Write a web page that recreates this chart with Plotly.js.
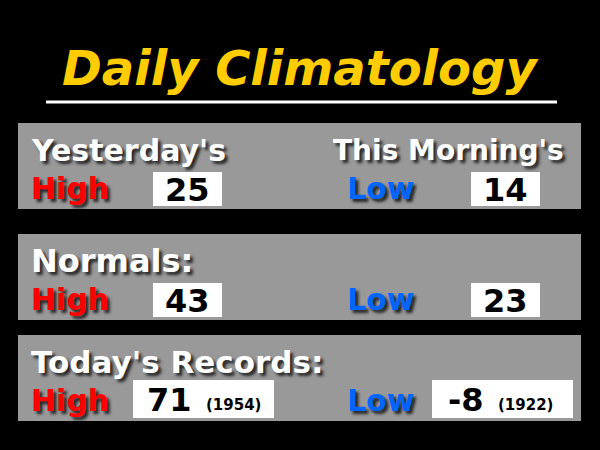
<!DOCTYPE html>
<html>
<head>
<meta charset="utf-8">
<script src="https://cdn.plot.ly/plotly-3.0.1.min.js"></script>
<style>
  html, body { margin: 0; padding: 0; background: #000; }
  #chart { width: 600px; height: 450px; }
</style>
</head>
<body>
<div id="chart"></div>
<script>
// values read from the board
var sections = ["Yesterday's", "Normals:", "Today's Records:"];
var lowHeaders = ["This Morning's", "", ""];
var highValues = [25, 43, 71];
var lowValues = [14, 23, -8];
var highYears = [null, null, 1954];
var lowYears = [null, null, 1922];

var FONT = "DejaVu Sans, Verdana, sans-serif";
var shadow = "3px 3px 3px rgba(0,0,0,0.75)";
var panelTops = [123, 234, 335];
var headSizes = [30, 32, 31];

var shapes = [];
var annotations = [];

// title + underline
annotations.push({
  x: 300, y: 68, xref: 'x', yref: 'y', showarrow: false,
  text: "Daily Climatology", xanchor: 'center', yanchor: 'middle',
  font: {family: FONT, size: 48, color: '#FFCC00', weight: 'bold', style: 'italic'}
});
shapes.push({type: 'line', xref: 'x', yref: 'y', x0: 46, x1: 557, y0: 102, y1: 102,
  line: {color: '#ffffff', width: 3}});

function label(x, y, txt, col, size){
  annotations.push({
    x: x, y: y, xref: 'x', yref: 'y', showarrow: false, text: txt,
    xanchor: 'left', yanchor: 'middle',
    font: {family: FONT, size: size, color: col, weight: 'bold', shadow: shadow}
  });
}

// numOff / yearOff: horizontal centres of the value and the year inside a record box
function valueBox(x0, x1, top, val, year, numOff, yearOff){
  var y0 = top + 49, y1 = top + 83;
  if (year) { y0 = top + 45; y1 = top + 83; }
  shapes.push({type: 'rect', xref: 'x', yref: 'y', x0: x0, x1: x1, y0: y0, y1: y1,
    fillcolor: '#ffffff', line: {width: 0}});
  var cy = (y0 + y1) / 2 + 1;
  if (year) {
    annotations.push({x: x0 + numOff, y: cy, xref: 'x', yref: 'y', showarrow: false,
      text: String(val), xanchor: 'center', yanchor: 'middle',
      font: {family: FONT, size: 32, color: '#000', weight: 'bold'}});
    annotations.push({x: x0 + yearOff, y: cy + 5, xref: 'x', yref: 'y', showarrow: false,
      text: '(' + year + ')', xanchor: 'center', yanchor: 'middle',
      font: {family: FONT, size: 15, color: '#000', weight: 'bold'}});
  } else {
    annotations.push({x: (x0 + x1) / 2, y: cy, xref: 'x', yref: 'y', showarrow: false,
      text: String(val), xanchor: 'center', yanchor: 'middle',
      font: {family: FONT, size: 32, color: '#000', weight: 'bold'}});
  }
}

sections.forEach(function(name, i){
  var top = panelTops[i];
  shapes.push({type: 'rect', xref: 'x', yref: 'y', x0: 18, x1: 581, y0: top, y1: top + 86,
    fillcolor: '#999999', line: {width: 0}, layer: 'below'});
  label(29, top + 27, name, '#ffffff', headSizes[i]);
  if (lowHeaders[i]) label(331, top + 27, lowHeaders[i], '#ffffff', 28);
  label(29, top + 65, 'High', '#ff0000', 30);
  label(345, top + 65, 'Low', '#0066ff', 30);
  if (highYears[i]) {
    valueBox(133, 274, top, highValues[i], highYears[i], 36, 100);
    valueBox(432, 573, top, lowValues[i], lowYears[i], 34, 93);
  } else {
    valueBox(153, 222, top, highValues[i], null);
    valueBox(471, 540, top, lowValues[i], null);
  }
});

var layout = {
  width: 600, height: 450,
  margin: {l: 0, r: 0, t: 0, b: 0},
  paper_bgcolor: '#000000', plot_bgcolor: '#000000',
  xaxis: {range: [0, 600], visible: false, fixedrange: true},
  yaxis: {range: [450, 0], visible: false, fixedrange: true},
  shapes: shapes,
  annotations: annotations,
  showlegend: false
};

Plotly.newPlot('chart', [], layout, {displayModeBar: false, staticPlot: true});
</script>
</body>
</html>
